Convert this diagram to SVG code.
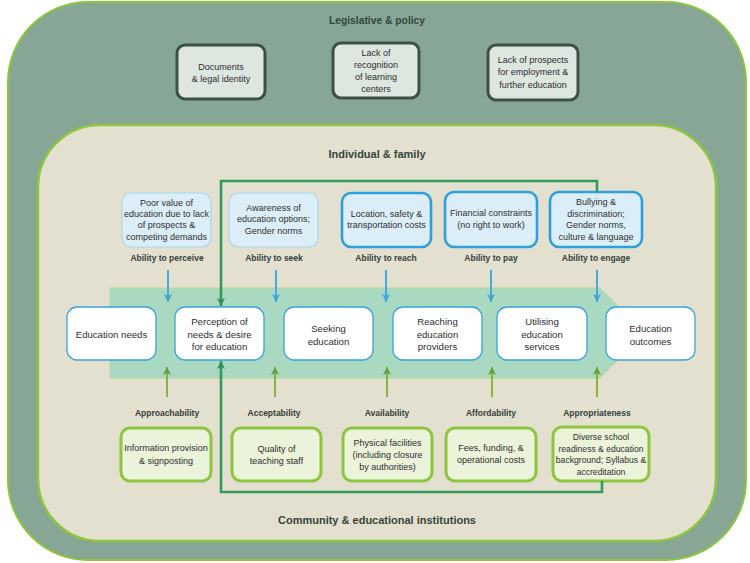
<svg xmlns="http://www.w3.org/2000/svg" width="750" height="563" viewBox="0 0 750 563">
<defs>
<marker id="mBlue" markerUnits="userSpaceOnUse" markerWidth="9" markerHeight="8" refX="8" refY="4" orient="auto"><path d="M0,0 L8,4 L0,8 L2,4 Z" fill="#3fa3dc"/></marker>
<marker id="mLime" markerUnits="userSpaceOnUse" markerWidth="9" markerHeight="8" refX="8" refY="4" orient="auto"><path d="M0,0 L8,4 L0,8 L2,4 Z" fill="#5f9f3a"/></marker>
<marker id="mDark" markerUnits="userSpaceOnUse" markerWidth="9" markerHeight="8" refX="8" refY="4" orient="auto"><path d="M0,0 L8,4 L0,8 L2,4 Z" fill="#2f8f55"/></marker>
<style>
text{font-family:"Liberation Sans",Arial,sans-serif;fill:#2e2e2e;text-anchor:middle}
.title{font-weight:bold;fill:#34463a}
.lab{font-weight:bold;font-size:8.5px;fill:#34403a}
.leg{fill:#dde6df;stroke:#3c5146;stroke-width:3}
.blt{fill:#dbeef8;stroke:#a8d6ec;stroke-width:1.2}
.bdk{fill:#dbeef8;stroke:#2c9fdc;stroke-width:2.6}
.proc{fill:#ffffff;stroke:#3aa3dc;stroke-width:1.3}
.grn{fill:#ebf3da;stroke:#8cc63e;stroke-width:3}
.t9{font-size:9px}
.t8{font-size:8.6px}
.t10{font-size:9.6px}
.ab{stroke:#45a8de;stroke-width:2;fill:none}
.ag{stroke:#86b640;stroke-width:2;fill:none}
.fb{stroke:#349a5c;stroke-width:2.6;fill:none}
</style>
</defs>
<rect id="legislative-frame" x="8" y="2" width="738" height="558" rx="80" fill="#87a696" stroke="#8cc63e" stroke-width="2"/>
<text class="title" x="377" y="24" font-size="10.3">Legislative &amp; policy</text>
<rect id="individual-frame" x="38" y="125" width="678" height="416" rx="62" fill="#e4e0d0" stroke="#8cc63e" stroke-width="2.5"/>
<text class="title" x="377" y="158" font-size="11">Individual &amp; family</text>
<text class="title" x="377" y="524" font-size="11">Community &amp; educational institutions</text>
<polygon id="pathway-band" points="110,288 600,288 645,333 600,378 110,378" fill="#a9d9c0" stroke="#b6da92" stroke-width="1"/>

<g id="leg-documents"><rect class="leg" x="177" y="45" width="88" height="54" rx="8"/><text class="t9" x="221" y="70">Documents</text><text class="t9" x="221" y="82">&amp; legal identity</text></g>
<g id="leg-recognition"><rect class="leg" x="333" y="43" width="86" height="55" rx="8"/><text class="t9" x="376" y="56">Lack of</text><text class="t9" x="376" y="68">recognition</text><text class="t9" x="376" y="80">of learning</text><text class="t9" x="376" y="92">centers</text></g>
<g id="leg-prospects"><rect class="leg" x="488" y="45" width="90" height="55" rx="8"/><text class="t9" x="533" y="63">Lack of prospects</text><text class="t9" x="533" y="75">for employment &amp;</text><text class="t9" x="533" y="88">further education</text></g>

<g id="barrier-perceive"><rect class="blt" x="122" y="193" width="89" height="54" rx="9"/><text class="t9" x="166.5" y="206">Poor value of</text><text class="t9" x="166.5" y="217">education due to lack</text><text class="t9" x="166.5" y="228">of prospects &amp;</text><text class="t9" x="166.5" y="240">competing demands</text><text class="lab" x="167" y="261">Ability to perceive</text></g>
<g id="barrier-seek"><rect class="blt" x="229" y="193" width="89" height="54" rx="9"/><text class="t9" x="273.5" y="211">Awareness of</text><text class="t9" x="273.5" y="222">education options;</text><text class="t9" x="273.5" y="234">Gender norms</text><text class="lab" x="274" y="261">Ability to seek</text></g>
<g id="barrier-reach"><rect class="bdk" x="342" y="193" width="89" height="54" rx="9"/><text class="t9" x="386.5" y="217">Location, safety &amp;</text><text class="t9" x="386.5" y="228">transportation costs</text><text class="lab" x="386" y="261">Ability to reach</text></g>
<g id="barrier-pay"><rect class="bdk" x="445" y="192" width="92" height="55" rx="9"/><text class="t9" x="491" y="216">Financial constraints</text><text class="t9" x="491" y="228">(no right to work)</text><text class="lab" x="491" y="261">Ability to pay</text></g>
<g id="barrier-engage"><rect class="bdk" x="550" y="192" width="92" height="55" rx="9"/><text class="t9" x="596" y="205">Bullying &amp;</text><text class="t9" x="596" y="217">discrimination;</text><text class="t9" x="596" y="228">Gender norms,</text><text class="t9" x="596" y="240">culture &amp; language</text><text class="lab" x="596" y="261">Ability to engage</text></g>

<g id="step-needs"><rect class="proc" x="67" y="307" width="89" height="53" rx="10"/><text class="t10" x="111.5" y="337.5">Education needs</text></g>
<g id="step-perception"><rect class="proc" x="175" y="307" width="89" height="53" rx="10"/><text class="t10" x="219.5" y="325">Perception of</text><text class="t10" x="219.5" y="337.5">needs &amp; desire</text><text class="t10" x="219.5" y="350">for education</text></g>
<g id="step-seeking"><rect class="proc" x="284" y="307" width="89" height="53" rx="10"/><text class="t10" x="328.5" y="331.5">Seeking</text><text class="t10" x="328.5" y="344.5">education</text></g>
<g id="step-reaching"><rect class="proc" x="393" y="307" width="89" height="53" rx="10"/><text class="t10" x="437.5" y="325">Reaching</text><text class="t10" x="437.5" y="337.5">education</text><text class="t10" x="437.5" y="350">providers</text></g>
<g id="step-utilising"><rect class="proc" x="497" y="307" width="90" height="53" rx="10"/><text class="t10" x="542" y="325">Utilising</text><text class="t10" x="542" y="337.5">education</text><text class="t10" x="542" y="350">services</text></g>
<g id="step-outcomes"><rect class="proc" x="606" y="307" width="89" height="53" rx="10" fill="#f9fbf9" stroke="#5ab3e2"/><text class="t10" x="650.5" y="331.5">Education</text><text class="t10" x="650.5" y="344.5">outcomes</text></g>

<g id="supply-approach"><text class="lab" x="167" y="416">Approachability</text><rect class="grn" x="121" y="428" width="90" height="53" rx="9"/><text class="t9" x="166" y="451">Information provision</text><text class="t9" x="166" y="464">&amp; signposting</text></g>
<g id="supply-accept"><text class="lab" x="274" y="416">Acceptability</text><rect class="grn" x="232" y="428" width="89" height="53" rx="9"/><text class="t9" x="276.5" y="452">Quality of</text><text class="t9" x="276.5" y="464">teaching staff</text></g>
<g id="supply-avail"><text class="lab" x="387" y="416">Availability</text><rect class="grn" x="343" y="428" width="89" height="53" rx="9"/><text class="t9" x="387.5" y="446">Physical facilities</text><text class="t9" x="387.5" y="458">(including closure</text><text class="t9" x="387.5" y="470">by authorities)</text></g>
<g id="supply-afford"><text class="lab" x="491" y="416">Affordability</text><rect class="grn" x="446" y="428" width="90" height="53" rx="9"/><text class="t9" x="491" y="451">Fees, funding, &amp;</text><text class="t9" x="491" y="463">operational costs</text></g>
<g id="supply-approp"><text class="lab" x="597" y="416">Appropriateness</text><rect class="grn" x="553" y="427" width="96" height="54" rx="9"/><text class="t8" x="601" y="440">Diverse school</text><text class="t8" x="601" y="451.5">readiness &amp; education</text><text class="t8" x="601" y="463">background; Syllabus &amp;</text><text class="t8" x="601" y="475">accreditation</text></g>

<g id="connectors">
<line class="ab" x1="168" y1="270" x2="168" y2="302" marker-end="url(#mBlue)"/>
<line class="ab" x1="276" y1="270" x2="276" y2="302" marker-end="url(#mBlue)"/>
<line class="ab" x1="386" y1="270" x2="386" y2="302" marker-end="url(#mBlue)"/>
<line class="ab" x1="491" y1="270" x2="491" y2="302" marker-end="url(#mBlue)"/>
<line class="ab" x1="597" y1="270" x2="597" y2="302" marker-end="url(#mBlue)"/>
<line class="ag" x1="167" y1="397" x2="167" y2="367" marker-end="url(#mLime)"/>
<line class="ag" x1="275" y1="397" x2="275" y2="367" marker-end="url(#mLime)"/>
<line class="ag" x1="387" y1="397" x2="387" y2="367" marker-end="url(#mLime)"/>
<line class="ag" x1="492" y1="397" x2="492" y2="367" marker-end="url(#mLime)"/>
<line class="ag" x1="597" y1="397" x2="597" y2="367" marker-end="url(#mLime)"/>
<polyline class="fb" points="597,192 597,181 221,181 221,306" marker-end="url(#mDark)"/>
<polyline class="fb" points="602,481 602,492 221,492 221,361" marker-end="url(#mDark)"/>
</g>
</svg>
